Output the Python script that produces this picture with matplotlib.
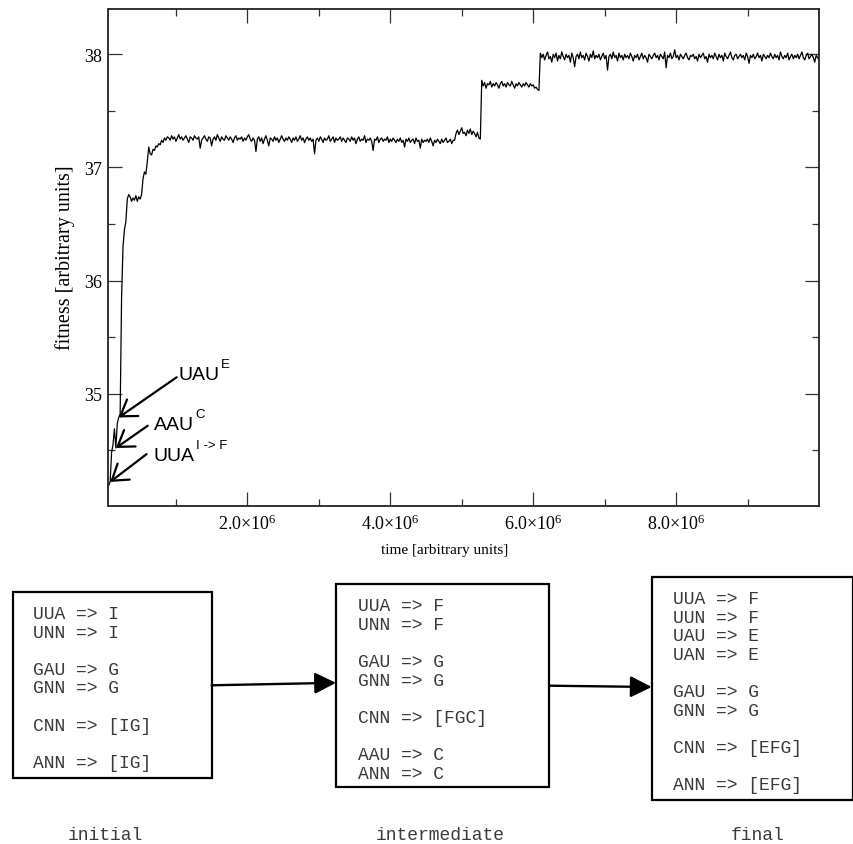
import matplotlib
matplotlib.use('Agg')
import matplotlib.pyplot as plt
import numpy as np
from matplotlib.ticker import MultipleLocator, FuncFormatter, FormatStrFormatter
from matplotlib.patches import Rectangle, FancyArrowPatch

plt.rcParams['font.family'] = ['Liberation Serif', 'DejaVu Serif']
plt.rcParams['mathtext.fontset'] = 'custom'
plt.rcParams['mathtext.rm'] = 'Liberation Serif'
plt.rcParams['mathtext.it'] = 'Liberation Serif:italic'
plt.rcParams['mathtext.sf'] = 'Liberation Sans'

# ---------------- data ----------------
t_start = 6.0e4
t_step = 2.0e4

fitness_early = [34.19, 34.22, 34.48, 34.55, 34.69, 34.52, 34.74, 34.79, 34.82, 35.85,
                 36.30, 36.45, 36.52, 36.72, 36.76, 36.74, 36.70, 36.73, 36.71, 36.75,
                 36.70, 36.74, 36.72, 36.76, 36.90, 36.96, 36.94, 37.05, 37.18, 37.12,
                 37.11, 37.16, 37.15, 37.19, 37.18, 37.21, 37.20, 37.24, 37.22, 37.26,
                 37.24, 37.27]

fitness_plateau1 = [
    37.26, 37.24, 37.28, 37.25, 37.27, 37.23, 37.26, 37.29, 37.25, 37.27, 37.24, 37.26, 37.28, 37.25, 37.22, 37.27, 37.26, 37.24, 37.28, 37.26,
    37.25, 37.27, 37.17, 37.24, 37.26, 37.28, 37.25, 37.23, 37.27, 37.26, 37.19, 37.25, 37.27, 37.24, 37.29, 37.26, 37.23, 37.27, 37.25, 37.24,
    37.28, 37.26, 37.24, 37.27, 37.25, 37.22, 37.26, 37.28, 37.24, 37.26, 37.25, 37.27, 37.23, 37.26, 37.24, 37.27, 37.29, 37.25, 37.23, 37.26,
    37.24, 37.14, 37.25, 37.27, 37.23, 37.26, 37.21, 37.25, 37.28, 37.24, 37.19, 37.26, 37.25, 37.23, 37.27, 37.24, 37.26, 37.22, 37.25, 37.28,
    37.25, 37.23, 37.26, 37.24, 37.27, 37.25, 37.22, 37.26, 37.24, 37.27, 37.23, 37.25, 37.28, 37.24, 37.26, 37.22, 37.25, 37.27, 37.24, 37.26,
    37.23, 37.25, 37.12, 37.24, 37.26, 37.23, 37.27, 37.25, 37.22, 37.26, 37.24, 37.25, 37.28, 37.23, 37.25, 37.27, 37.22, 37.26, 37.24, 37.25,
    37.27, 37.23, 37.26, 37.24, 37.22, 37.26, 37.25, 37.23, 37.27, 37.24, 37.26, 37.21, 37.25, 37.27, 37.23, 37.25, 37.24, 37.28, 37.22, 37.25,
    37.24, 37.26, 37.23, 37.15, 37.25, 37.24, 37.27, 37.22, 37.25, 37.26, 37.23, 37.25, 37.24, 37.27, 37.22, 37.25, 37.23, 37.26, 37.24, 37.22,
    37.25, 37.23, 37.26, 37.22, 37.24, 37.18, 37.25, 37.23, 37.26, 37.22, 37.24, 37.25, 37.21, 37.26, 37.23, 37.24, 37.17, 37.25, 37.22, 37.24,
    37.23, 37.25, 37.22, 37.26, 37.23, 37.19, 37.24, 37.22, 37.25, 37.23, 37.21, 37.25, 37.22, 37.24, 37.26, 37.22, 37.23, 37.25, 37.21, 37.24,
    37.24]

fitness_bump = [37.30, 37.33, 37.29, 37.32, 37.35, 37.30, 37.31, 37.28, 37.33, 37.30,
                37.34, 37.29, 37.32, 37.30, 37.27, 37.31, 37.26, 37.25]

fitness_plateau2 = [37.77, 37.72, 37.75, 37.70, 37.74, 37.73, 37.76, 37.71, 37.74, 37.72,
                    37.75, 37.73, 37.70, 37.74, 37.76, 37.72, 37.74, 37.71, 37.75, 37.73,
                    37.72, 37.76, 37.73, 37.70, 37.74, 37.72, 37.75, 37.73, 37.71, 37.74,
                    37.72, 37.75, 37.73, 37.71, 37.74, 37.72, 37.73, 37.70, 37.71, 37.69,
                    37.68]

fitness_plateau3 = [
    38.01, 37.97, 38.00, 37.95, 37.99, 38.02, 37.96, 37.98, 37.93, 38.00, 37.97, 38.01, 37.94, 37.99, 37.96, 38.02, 37.98, 37.95, 38.00, 37.97,
    37.99, 37.93, 38.01, 37.97, 37.89, 37.98, 38.00, 37.96, 38.02, 37.97, 37.99, 37.95, 38.01, 37.98, 37.94, 38.00, 37.97, 38.03, 37.96, 37.99,
    37.97, 38.00, 37.95, 37.98, 38.01, 37.96, 37.99, 37.86, 37.98, 38.00, 37.96, 38.02, 37.97, 37.99, 37.94, 38.01, 37.97, 37.99, 37.95, 38.00,
    37.97, 37.99, 37.96, 38.01, 37.98, 37.94, 37.99, 37.97, 38.00, 37.95, 37.98, 38.01, 37.96, 37.99, 37.97, 37.93, 38.00, 37.98, 37.96, 37.99,
    38.01, 37.97, 37.99, 37.95, 38.00, 37.98, 37.96, 38.02, 37.88, 37.99, 37.97, 38.01, 37.96, 37.98, 38.04, 37.97, 37.99, 37.95, 38.00, 37.98,
    37.96, 37.99, 38.01, 37.97, 37.95, 37.99, 37.98, 38.00, 37.96, 37.98, 37.94, 38.00, 37.97, 37.99, 38.01, 37.96, 37.98, 37.93, 38.00, 37.97,
    37.99, 37.96, 38.01, 37.98, 37.95, 38.00, 37.97, 37.99, 37.94, 38.01, 37.98, 37.96, 37.99, 38.02, 37.97, 37.95, 37.99, 38.00, 37.96, 37.98,
    38.00, 37.97, 37.99, 37.95, 38.01, 37.98, 37.92, 37.99, 37.97, 38.00, 37.96, 37.98, 38.01, 37.97, 37.99, 37.94, 38.00, 37.98, 37.96, 37.99,
    37.97, 38.01, 37.98, 37.96, 38.00, 37.97, 37.99, 37.95, 38.02, 37.98, 37.96, 37.99, 37.97, 38.01, 37.95, 37.98, 38.00, 37.96, 37.99, 37.97,
    38.00, 37.96, 37.99, 38.02, 37.97, 37.95, 37.99, 38.01, 37.96, 37.98, 38.00, 37.97, 37.93, 37.99, 37.97, 37.95]

fitness = np.array(fitness_early + fitness_plateau1 + fitness_bump
                   + fitness_plateau2 + fitness_plateau3)
time = t_start + t_step * np.arange(len(fitness))

# annotated events: codon, superscript, index into series
event_labels = ['UUA', 'AAU', 'UAU']
event_sups = ['I -> F', 'C', 'E']
event_index = [1, 5, 7]

box_titles = ['initial', 'intermediate', 'final']
box_lines = [
    ['UUA => I', 'UNN => I', '', 'GAU => G', 'GNN => G', '', 'CNN => [IG]', '', 'ANN => [IG]'],
    ['UUA => F', 'UNN => F', '', 'GAU => G', 'GNN => G', '', 'CNN => [FGC]', '', 'AAU => C', 'ANN => C'],
    ['UUA => F', 'UUN => F', 'UAU => E', 'UAN => E', '', 'GAU => G', 'GNN => G', '', 'CNN => [EFG]', '', 'ANN => [EFG]'],
]

# ---------------- figure ----------------
W, H = 854, 845
fig = plt.figure(figsize=(W / 100, H / 100), dpi=100)

def fx(x):
    return x / W

def fy(y):
    return 1 - y / H

ax = fig.add_axes([fx(108.5), fy(506.7), fx(818.7) - fx(108.5), fy(10) - fy(506.7)])
ax.plot(time, fitness, color='black', lw=0.9)
ax.set_xlim(5.7e4, 9.995e6)
ax.set_ylim(34.01, 38.40)

ax.xaxis.set_major_locator(MultipleLocator(2e6))
ax.xaxis.set_minor_locator(MultipleLocator(1e6))
ax.yaxis.set_major_locator(MultipleLocator(1))
ax.yaxis.set_minor_locator(MultipleLocator(0.5))
ax.xaxis.set_major_formatter(FuncFormatter(lambda v, p: '%.1f$\\times$10$^{6}$' % (v / 1e6)))
ax.yaxis.set_major_formatter(FormatStrFormatter('%d'))
ax.tick_params(which='both', direction='in', top=True, right=True, width=0.9, color='#333333')
ax.tick_params(which='major', length=10)
ax.tick_params(which='minor', length=4.8)
ax.tick_params(axis='x', which='major', labelsize=13, pad=6)
ax.tick_params(axis='y', which='major', labelsize=13, pad=4.5)
for s in ax.spines.values():
    s.set_linewidth(1.3)
    s.set_color('#222222')

fig.text(fx(65), fy(258), 'fitness [arbitrary units]', rotation=90, fontsize=14.5,
         ha='center', va='center')
fig.text(fx(445), fy(550.5), 'time [arbitrary units]', fontsize=11,
         ha='center', va='center')

# annotations
text_pos = [(0.69e6, 34.41), (0.69e6, 34.69), (1.03e6, 35.13)]
tail_pos = [(0.59e6, 34.466), (0.606e6, 34.717), (1.01e6, 35.145)]
for lab, sup, idx, tp, tl in zip(event_labels, event_sups, event_index, text_pos, tail_pos):
    ax.annotate('', xy=(time[idx], fitness[idx]), xytext=tl,
                arrowprops=dict(arrowstyle='->,head_length=0.6,head_width=0.4',
                                lw=1.6, mutation_scale=18, shrinkA=0, shrinkB=0,
                                color='black'))
    txt = ax.text(tp[0], tp[1], lab, family='Liberation Sans', fontsize=14,
                  ha='left', va='baseline')
    ax.annotate(sup, xy=(1, 0), xycoords=txt, xytext=(1.0, 11.5),
                textcoords='offset points', family='Liberation Sans',
                fontsize=9.5, ha='left', va='baseline')

# ---------------- bottom boxes ----------------
boxes = [(12.7, 593.3, 211.7, 779.3), (336, 585, 549.3, 788.3), (651.7, 578.3, 853, 800.7)]
text_left = [33.3, 358.3, 673.3]
first_center = [614.3, 606.7, 599.3]
line_h = 18.6
title_x = [105.5, 440, 758]

for (x0, y0, x1, y1), lines, tl, fc, title, tx in zip(boxes, box_lines, text_left,
                                                       first_center, box_titles, title_x):
    fig.add_artist(Rectangle((fx(x0), fy(y1)), fx(x1) - fx(x0), fy(y0) - fy(y1),
                             transform=fig.transFigure, fill=False, lw=1.6,
                             ec='black'))
    for i, ln in enumerate(lines):
        if ln:
            fig.text(fx(tl), fy(fc + i * line_h + 4.7), ln, family='Liberation Mono',
                     fontsize=13, color='#3a3a3a', ha='left', va='baseline')
    fig.text(fx(tx), fy(840), title, family='Liberation Mono', fontsize=13,
             color='#3a3a3a', ha='center', va='baseline')

arrow_pts = [((211.7, 686.3), (336, 683.8)), ((549.3, 686.7), (651.7, 688.0))]
for (a, b) in arrow_pts:
    fig.add_artist(FancyArrowPatch((fx(a[0]), fy(a[1])), (fx(b[0]), fy(b[1])),
                                   transform=fig.transFigure,
                                   arrowstyle='-|>,head_length=13,head_width=6.5',
                                   mutation_scale=1, lw=1.7, color='black',
                                   shrinkA=0, shrinkB=0))

fig.savefig('out.png', dpi=100)
